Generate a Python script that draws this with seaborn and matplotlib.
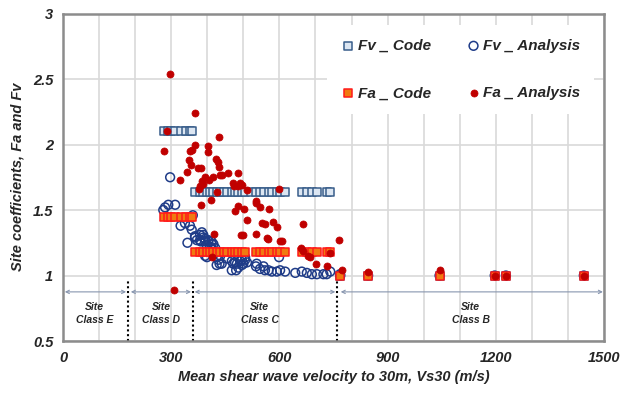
import matplotlib
matplotlib.use("Agg")
import matplotlib.pyplot as plt
import seaborn as sns
import pandas as pd

# ---------------- data ----------------
fv_code_vs = [280, 292, 300, 311, 326, 340, 352, 358,
              366, 380, 389, 399, 408, 417, 426, 436, 446, 454, 468, 477, 486, 496, 505, 520,
              535, 546, 556, 570, 579, 593, 602, 616,
              662, 676, 690, 704, 731, 741,
              769, 846, 1044, 1197, 1228, 1444]
fv_code_val = [2.1] * 8 + [1.64] * 30 + [1.0] * 6

fa_code_vs = [280, 292, 300, 311, 326, 340, 352, 358,
              366, 380, 389, 399, 408, 417, 426, 436, 446, 454, 468, 477, 486, 496, 505,
              535, 546, 556, 570, 579, 593, 602, 616,
              662, 676, 690, 704, 731, 741,
              769, 846, 1044, 1197, 1228, 1444]
fa_code_val = [1.45] * 8 + [1.18] * 29 + [1.0] * 6

fv_an_vs = [297, 283, 292, 311, 278, 360, 326, 338, 352, 357, 345,
            366, 380, 389, 385, 389, 371, 382, 394, 403, 412, 417, 408, 399, 422,
            366, 380, 394, 403, 412,
            394, 399, 417, 426, 436, 431, 426, 434, 440,
            454, 468, 472, 482, 491, 496, 486, 500, 480, 468, 477, 496, 505, 510, 505,
            537, 535, 546, 560, 570, 579, 593, 602, 616, 556,
            599, 662, 676, 690, 704, 731, 741, 768, 644, 722,
            769, 846, 1044, 1197, 1228, 1444]
fv_an_val = [1.75, 1.52, 1.54, 1.54, 1.50, 1.46, 1.38, 1.40, 1.38, 1.35, 1.25,
             1.30, 1.31, 1.29, 1.33, 1.31, 1.27, 1.26, 1.26, 1.26, 1.24, 1.24, 1.22, 1.23, 1.21,
             1.29, 1.27, 1.28, 1.27, 1.26,
             1.15, 1.14, 1.16, 1.14, 1.15, 1.12, 1.08, 1.09, 1.09,
             1.13, 1.11, 1.09, 1.09, 1.11, 1.08, 1.06, 1.09, 1.04, 1.04, 1.10, 1.12, 1.12, 1.10, 1.14,
             1.09, 1.07, 1.05, 1.04, 1.04, 1.03, 1.03, 1.04, 1.03, 1.07,
             1.14, 1.03, 1.02, 1.01, 1.01, 1.01, 1.03, 1.01, 1.02, 1.01,
             1.0, 1.0, 1.0, 1.0, 1.0, 1.0]

fa_an_vs = [296, 289, 280, 308, 350, 356, 344, 325, 357, 352, 365, 365,
            432, 401, 401, 424, 429, 432, 374, 383, 434, 441, 457, 485, 395, 404, 417,
            385, 389, 471, 473, 491, 496, 484, 380, 378, 428, 510, 598, 411, 383, 485,
            503, 535, 535, 546, 571, 478, 510, 552, 560, 583, 594, 665, 419, 494, 500,
            534, 565, 569, 602, 607, 766, 661, 665, 679, 686, 741, 702, 732, 412,
            773, 846, 1044, 1197, 1228, 1444]
fa_an_val = [2.54, 2.10, 1.95, 0.89, 1.88, 1.84, 1.79, 1.73, 1.96, 1.95, 2.24, 2.00,
             2.06, 1.99, 1.94, 1.89, 1.87, 1.83, 1.82, 1.82, 1.77, 1.77, 1.78, 1.78, 1.75, 1.73, 1.75,
             1.72, 1.70, 1.71, 1.68, 1.71, 1.69, 1.68, 1.68, 1.66, 1.64, 1.65, 1.66, 1.58, 1.54, 1.53,
             1.51, 1.57, 1.55, 1.52, 1.51, 1.49, 1.42, 1.40, 1.39, 1.41, 1.37, 1.39, 1.32, 1.31, 1.31,
             1.32, 1.29, 1.28, 1.26, 1.26, 1.27, 1.21, 1.19, 1.15, 1.14, 1.17, 1.09, 1.07, 1.14,
             1.04, 1.03, 1.04, 1.0, 1.0, 1.0]

class_bounds = [180, 360, 760]
class_names = ["Site\nClass E", "Site\nClass D", "Site\nClass C", "Site\nClass B"]
class_text_x = [88, 272, 545, 1130]
class_arrows = [(5, 175), (188, 355), (365, 755), (770, 1497)]

x_ticks = [0, 300, 600, 900, 1200, 1500]
y_ticks = [0.5, 1, 1.5, 2, 2.5, 3]

# ---------------- plot ----------------
sns.set_style("white")
plt.rcParams["font.family"] = ["Liberation Sans", "DejaVu Sans"]

fig = plt.figure(figsize=(6.25, 3.94), dpi=100)
ax = fig.add_axes([0.1008, 0.1345, 0.8656, 0.8312])

df_fvc = pd.DataFrame({"vs": fv_code_vs, "val": fv_code_val})
df_fac = pd.DataFrame({"vs": fa_code_vs, "val": fa_code_val})
df_fva = pd.DataFrame({"vs": fv_an_vs, "val": fv_an_val})
df_faa = pd.DataFrame({"vs": fa_an_vs, "val": fa_an_val})

sns.scatterplot(data=df_fvc, x="vs", y="val", ax=ax, marker="s", s=40,
                color="#DCE6F2", edgecolor="#385D8A", linewidth=1.1,
                label="Fv _ Code", zorder=3)
sns.scatterplot(data=df_fva, x="vs", y="val", ax=ax, marker="o", s=40,
                facecolor="none", edgecolor="#1F3C88", linewidth=1.1,
                label="Fv _ Analysis", zorder=4)
sns.scatterplot(data=df_fac, x="vs", y="val", ax=ax, marker="s", s=28,
                color="#F07A10", edgecolor="#FF1A1A", linewidth=1.1,
                label="Fa _ Code", zorder=5)
sns.scatterplot(data=df_faa, x="vs", y="val", ax=ax, marker="o", s=26,
                color="#C00000", edgecolor="#C00000", linewidth=0.5,
                label="Fa _ Analysis", zorder=6)

ax.set_xlim(0, 1500)
ax.set_ylim(0.5, 3)
ax.set_xticks(x_ticks)
ax.set_xticks(range(0, 1501, 100), minor=True)
ax.set_yticks(y_ticks)
ax.set_yticklabels(["0.5", "1", "1.5", "2", "2.5", "3"])
ax.set_xticklabels([str(t) for t in x_ticks])
ax.grid(True, which="both", axis="x", color="#D9D9D9", linewidth=1.2, zorder=0)
ax.grid(True, which="major", axis="y", color="#D9D9D9", linewidth=1.2, zorder=0)
ax.set_axisbelow(True)

for lab in ax.get_xticklabels() + ax.get_yticklabels():
    lab.set_fontweight("bold")
    lab.set_fontstyle("italic")
    lab.set_fontsize(10.5)
ax.tick_params(axis="both", which="major", direction="out", length=4, width=1,
               color="#A0A0A0", pad=3)
ax.tick_params(axis="x", which="minor", length=0)

for sp in ax.spines.values():
    sp.set_color("#8C8C8C")
    sp.set_linewidth(1.8)

ax.set_xlabel("Mean shear wave velocity to 30m, Vs30 (m/s)", fontsize=10.5,
              fontweight="bold", fontstyle="italic", labelpad=4)
ax.set_ylabel("Site coefficients, Fa and Fv", fontsize=10.5,
              fontweight="bold", fontstyle="italic", labelpad=6)

# site class boundaries
for b in class_bounds:
    ax.plot([b, b], [0.5, 0.975], color="black", linestyle=(0, (1, 1.3)),
            linewidth=1.5, zorder=2)
for (a, b) in class_arrows:
    ax.annotate("", xy=(a, 0.875), xytext=(b, 0.875),
                arrowprops=dict(arrowstyle="<->", color="#8896AF", lw=0.8,
                                shrinkA=0, shrinkB=0,
                                mutation_scale=6), zorder=2)
for tx, name in zip(class_text_x, class_names):
    ax.text(tx, 0.71, name, ha="center", va="center", fontsize=7.5,
            fontweight="bold", fontstyle="italic", color="#262626",
            linespacing=1.3)

# legend
h, l = ax.get_legend_handles_labels()
order = [0, 2, 1, 3]
leg = ax.legend([h[i] for i in order], [l[i] for i in order], ncol=2,
                loc="upper left", bbox_to_anchor=(0.474, 0.988),
                frameon=True, framealpha=1, edgecolor="white", facecolor="white",
                prop=dict(family=["Liberation Sans"], weight="bold", style="italic", size=11),
                labelspacing=2.2, columnspacing=2.3, handletextpad=0.1,
                handlelength=1.0, borderpad=0.9, fancybox=False)
leg.get_frame().set_linewidth(0)

fig.savefig("out.png", dpi=100)
